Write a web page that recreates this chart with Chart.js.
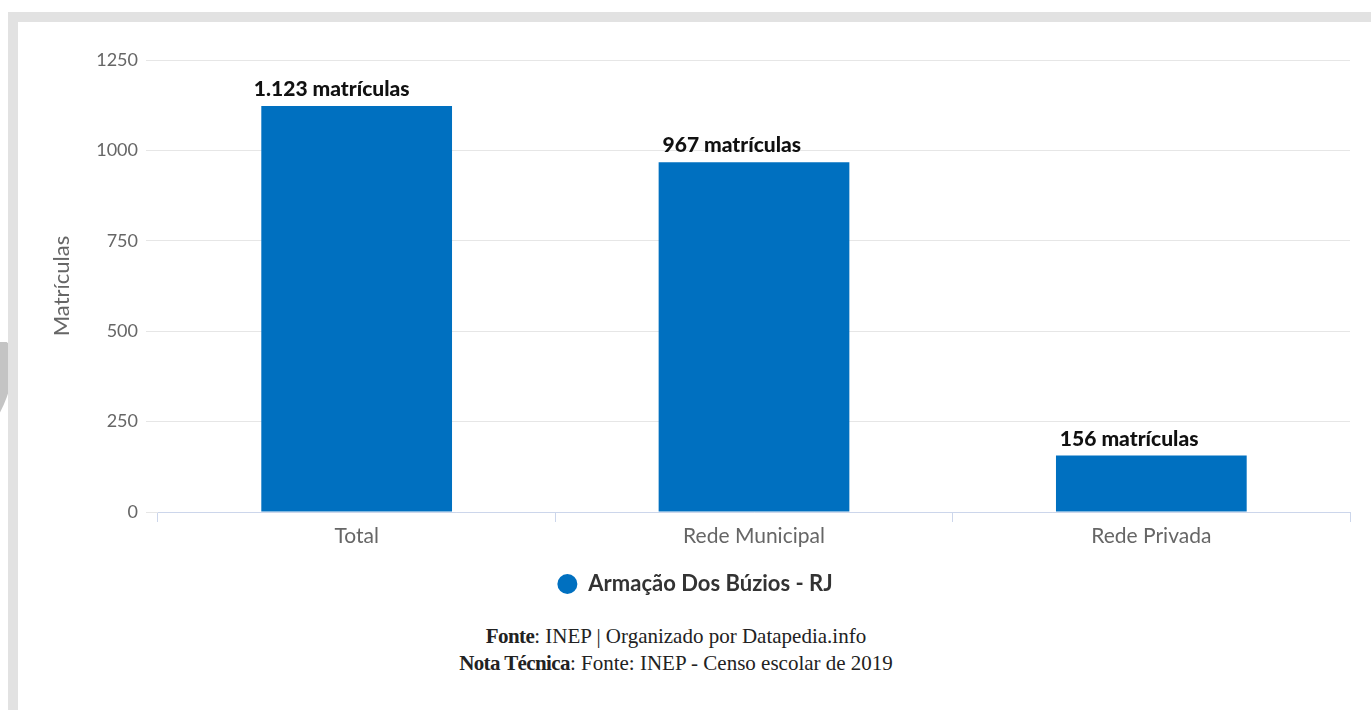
<!DOCTYPE html>
<html lang="pt-BR">
<head>
<meta charset="utf-8">
<title>Matrículas - Armação Dos Búzios - RJ</title>
<script src="https://cdn.jsdelivr.net/npm/chart.js@4.4.1/dist/chart.umd.min.js"></script>
<style>
  html, body { margin: 0; padding: 0; background: #ffffff; }
  body { width: 1371px; height: 710px; position: relative; overflow: hidden; }
  .frame-top { position: absolute; left: 8px; top: 12px; width: 1363px; height: 10px; background: #e2e2e2; }
  .frame-left { position: absolute; left: 8px; top: 12px; width: 10px; height: 698px; background: #e2e2e2; }
  .edge-clip { position: absolute; left: 0; top: 342px; width: 8px; height: 84px; overflow: hidden; }
  .edge-shape { position: absolute; left: -34px; top: -4px; width: 42px; height: 104px; border-radius: 50%;
                background: #c4c4c4; transform: rotate(20deg); }
  #wrap { position: absolute; left: 0; top: 0; width: 1371px; height: 610px; }
  .source { position: absolute; left: 0; width: 1352px; text-align: center; top: 623px;
            font-family: "Liberation Serif", "DejaVu Serif", serif; font-size: 21px; color: #222;
            line-height: 27px; }
  .source b { font-weight: bold; letter-spacing: -0.6px; }
</style>
</head>
<body>
<div class="frame-top"></div>
<div class="frame-left"></div>
<div class="edge-clip"><div class="edge-shape"></div></div>
<div id="wrap"><canvas id="chart" width="1371" height="610"></canvas></div>
<div class="source">
  <div><b>Fonte</b>: INEP | Organizado por Datapedia.info</div>
  <div><b>Nota Técnica</b>: Fonte: INEP - Censo escolar de 2019</div>
</div>
<script>
// Enrollment counts per school network
const categories = ["Total", "Rede Municipal", "Rede Privada"];
const enrollments = [1123, 967, 156];
const seriesName = "Armação Dos Búzios - RJ";
const yTicks = [0, 250, 500, 750, 1000, 1250];

const FONT = "Lato, 'Open Sans', sans-serif";
const BAR_BLUE = "#0070c0";

// Formats 1123 as "1.123"
function ptBR(n) {
  return String(n).replace(/\B(?=(\d{3})+(?!\d))/g, ".");
}

// Writes "<value> matrículas" above each bar
const barValueLabels = {
  id: "barValueLabels",
  afterDatasetsDraw(chart) {
    const ctx = chart.ctx;
    const meta = chart.getDatasetMeta(0);
    ctx.save();
    ctx.font = "900 21px " + FONT;
    ctx.fillStyle = "#111111";
    ctx.textAlign = "left";
    ctx.textBaseline = "alphabetic";
    meta.data.forEach((bar, i) => {
      const text = ptBR(enrollments[i]) + " matrículas";
      const w = ctx.measureText(text).width;
      ctx.fillText(text, bar.x - w * 0.66, bar.y - 10);
    });
    ctx.restore();
  }
};

// Nudges the legend a little to the right of the canvas centre
const legendOffset = {
  id: "legendOffset",
  afterLayout(chart) {
    if (chart.legend) {
      chart.legend.left += 20;
      chart.legend.right += 20;
    }
  }
};

new Chart(document.getElementById("chart"), {
  type: "bar",
  data: {
    labels: categories,
    datasets: [{
      label: seriesName,
      data: enrollments,
      backgroundColor: BAR_BLUE,
      borderWidth: 0,
      barPercentage: 0.48,
      categoryPercentage: 1.0
    }]
  },
  options: {
    responsive: false,
    animation: false,
    layout: { padding: { top: 60, right: 21, bottom: 5, left: 0 } },
    plugins: {
      tooltip: { enabled: false },
      legend: {
        position: "bottom",
        labels: {
          usePointStyle: true,
          pointStyle: "circle",
          pointStyleWidth: 20,
          boxHeight: 14,
          padding: 10,
          color: "#333333",
          font: { family: FONT, size: 22, weight: "bold" }
        }
      }
    },
    scales: {
      x: {
        afterFit(scale) { scale.height = 51; },
        grid: {
          display: true,
          drawOnChartArea: false,
          drawTicks: true,
          tickLength: 10,
          color: "#ccd6eb",
          offset: true
        },
        border: { display: true, color: "#ccd6eb", width: 1 },
        ticks: {
          color: "#666666",
          padding: 2,
          font: { family: FONT, size: 21 }
        }
      },
      y: {
        min: 0,
        max: 1250,
        afterFit(scale) { scale.width = 158; },
        afterBuildTicks(scale) { scale.ticks = yTicks.map(v => ({ value: v })); },
        grid: {
          color: "#e6e6e6",
          tickLength: 12,
          drawTicks: true
        },
        border: { display: false },
        ticks: {
          color: "#666666",
          padding: 8,
          font: { family: FONT, size: 18 },
          callback: (v) => String(v)
        },
        title: {
          display: true,
          text: "Matrículas",
          color: "#666666",
          padding: { top: 49, bottom: 0 },
          font: { family: FONT, size: 22 }
        }
      }
    }
  },
  plugins: [barValueLabels, legendOffset]
});
</script>
</body>
</html>
